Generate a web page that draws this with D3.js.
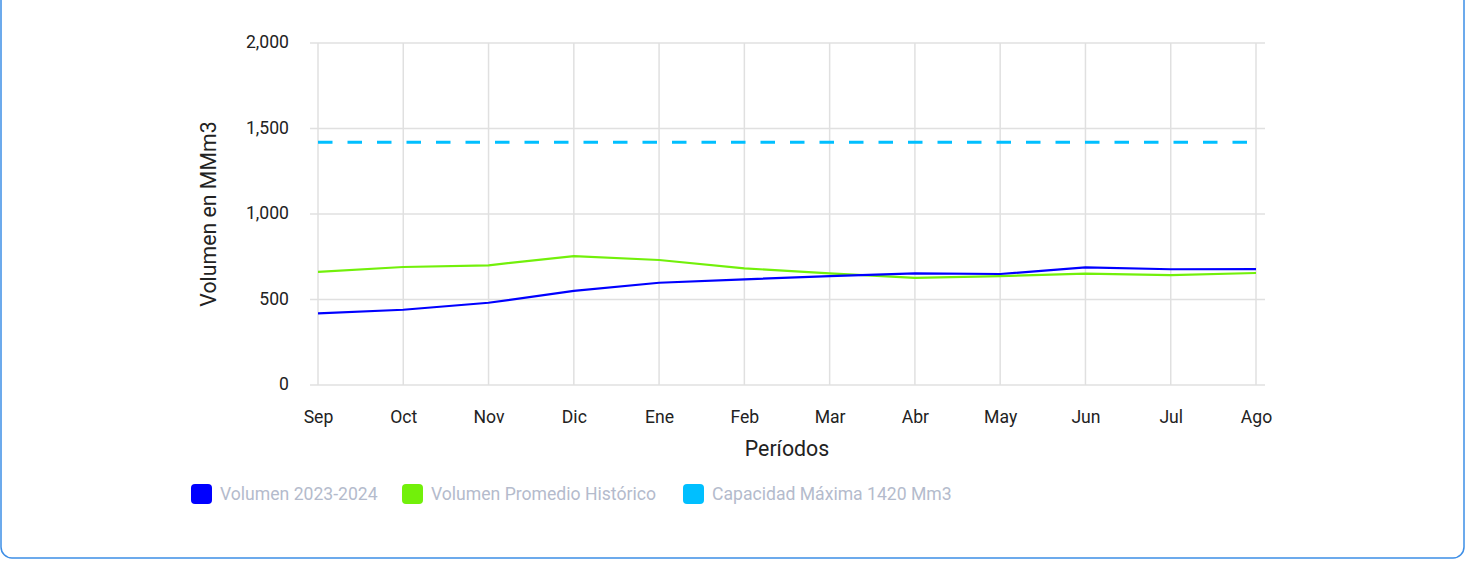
<!DOCTYPE html>
<html><head><meta charset="utf-8">
<script src="https://cdn.jsdelivr.net/npm/d3@7"></script>
<style>
html,body{margin:0;padding:0;background:#fff;}
svg{display:block;font-family:Roboto, "Noto Sans", sans-serif;}
</style></head>
<body>
<svg id="c" width="1467" height="562"></svg>
<script>
const categories = ["Sep","Oct","Nov","Dic","Ene","Feb","Mar","Abr","May","Jun","Jul","Ago"];
const volumen2324 = [419, 440, 481, 550, 598, 618, 637, 653, 649, 688, 677, 678];
const promedioHist = [661, 690, 700, 754, 731, 682, 653, 627, 637, 651, 643, 655];
const capacidadMax = 1420;
const yTicks = [0, 500, 1000, 1500, 2000];
const seriesNames = ["Volumen 2023-2024", "Volumen Promedio Histórico", "Capacidad Máxima 1420 Mm3"];
const seriesColors = ["#0000ff", "#72f00a", "#00bfff"];

const svg = d3.select("#c");
svg.append("rect").attr("x", 1).attr("y", -12).attr("width", 1463).attr("height", 570)
  .attr("rx", 11).attr("fill", "#fff").attr("stroke", "#3d8ee6").attr("stroke-width", 1.5);

const x = d3.scalePoint().domain(categories).range([318, 1256]);
const y = d3.scaleLinear().domain([0, 2000]).range([385, 43]);
const gridLeft = 310, gridRight = 1265;

svg.append("g").selectAll("line").data(yTicks).join("line")
  .attr("x1", gridLeft).attr("x2", gridRight)
  .attr("y1", d => y(d)).attr("y2", d => y(d))
  .attr("stroke", "#e0e0e0").attr("stroke-width", 1.5);
svg.append("g").selectAll("line").data(categories).join("line")
  .attr("x1", d => x(d)).attr("x2", d => x(d))
  .attr("y1", y(0)).attr("y2", y(2000))
  .attr("stroke", "#e0e0e0").attr("stroke-width", 1.5);

const yAxis = svg.append("g").attr("transform", `translate(${gridLeft},0)`)
  .call(d3.axisLeft(y).tickValues(yTicks).tickFormat(d3.format(",")).tickSize(0).tickPadding(21));
yAxis.select(".domain").remove();
yAxis.selectAll("text").attr("font-size", 17.6).attr("fill", "#222").attr("font-family", "Roboto").attr("dy", "0.28em");

const xAxis = svg.append("g").attr("transform", `translate(0,${y(0)})`)
  .call(d3.axisBottom(x).tickSize(0).tickPadding(24));
xAxis.select(".domain").remove();
xAxis.selectAll("text").attr("font-size", 17.6).attr("fill", "#222").attr("font-family", "Roboto").attr("dy", "0.78em");

svg.append("text").attr("transform", "translate(216,214) rotate(-90)")
  .attr("text-anchor", "middle").attr("font-size", 21.3).attr("fill", "#222").text("Volumen en MMm3");
svg.append("text").attr("x", 787).attr("y", 456)
  .attr("text-anchor", "middle").attr("font-size", 21.3).attr("fill", "#222").text("Períodos");

svg.append("line").attr("x1", x(categories[0])).attr("x2", x(categories[categories.length-1]))
  .attr("y1", y(capacidadMax)).attr("y2", y(capacidadMax))
  .attr("stroke", seriesColors[2]).attr("stroke-width", 3).attr("stroke-dasharray", "14.5,15");

const line = d3.line().x((d, i) => x(categories[i])).y(d => y(d));
svg.append("path").datum(promedioHist).attr("d", line).attr("fill", "none")
  .attr("stroke", seriesColors[1]).attr("stroke-width", 2.2);
svg.append("path").datum(volumen2324).attr("d", line).attr("fill", "none")
  .attr("stroke", seriesColors[0]).attr("stroke-width", 2.2);

const legendX = [191, 402, 683];
const lg = svg.append("g").selectAll("g").data(seriesNames).join("g")
  .attr("transform", (d, i) => `translate(${legendX[i]},484)`);
lg.append("rect").attr("width", 21).attr("height", 20).attr("rx", 4).attr("fill", (d, i) => seriesColors[i]);
lg.append("text").attr("x", 29).attr("y", 16).attr("font-size", 17.6).attr("fill", "#b4bbcc").text(d => d);
</script>
</body></html>
